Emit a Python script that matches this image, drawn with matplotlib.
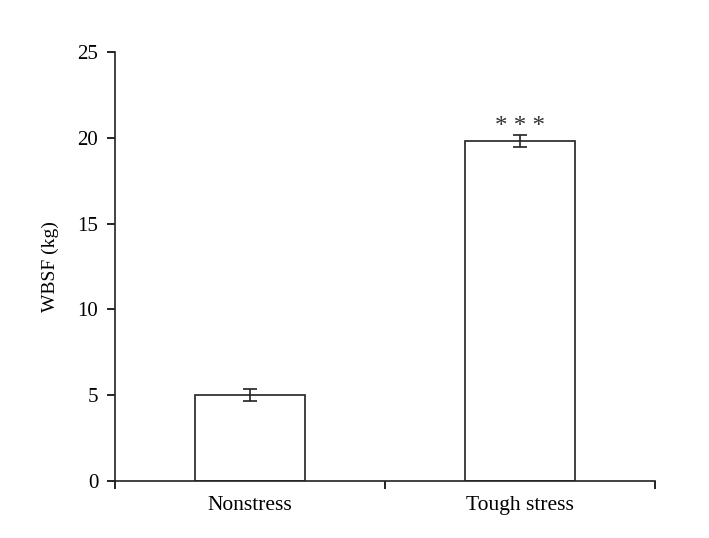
import matplotlib
matplotlib.use("Agg")
import matplotlib.pyplot as plt
from matplotlib.ticker import FixedLocator, NullFormatter

plt.rcParams["font.family"] = ["Liberation Serif", "DejaVu Serif"]

categories = ["Nonstress", "Tough stress"]
wbsf = [5.0, 19.8]
wbsf_err = [0.35, 0.35]
signif = ["", "* * *"]

fig = plt.figure(figsize=(7.09, 5.38), dpi=100)
ax = fig.add_axes([0.1622, 0.106, 0.7616, 0.7973])

pos = [0.5, 1.5]
ax.bar(pos, wbsf, width=0.41, color="white", edgecolor="#333333", linewidth=1.3, zorder=2)
ax.errorbar(pos, wbsf, yerr=wbsf_err, fmt="none", ecolor="#222222",
            elinewidth=1.2, capsize=5, capthick=1.2, zorder=3)
for x, v, e, s in zip(pos, wbsf, wbsf_err, signif):
    if s:
        ax.text(x, v + e - 0.15, s, ha="center", va="bottom", fontsize=18, color="#333333")

ax.set_xlim(0, 2)
ax.set_ylim(0, 25)
ax.set_yticks([0, 5, 10, 15, 20, 25])
ax.xaxis.set_major_locator(FixedLocator([0, 1, 2]))
ax.xaxis.set_major_formatter(NullFormatter())
ax.xaxis.set_minor_locator(FixedLocator(pos))
ax.set_xticklabels(categories, minor=True)
ax.tick_params(axis="x", which="minor", length=0, pad=11, labelsize=15.5)
ax.tick_params(axis="x", which="major", length=6, width=1.2, direction="out")
ax.tick_params(axis="y", length=6, width=1.2, direction="out", labelsize=15, pad=6)
ax.set_ylabel("WBSF (kg)", fontsize=14, labelpad=13)

for side in ["top", "right"]:
    ax.spines[side].set_visible(False)
for side in ["left", "bottom"]:
    ax.spines[side].set_linewidth(1.2)
    ax.spines[side].set_color("#222222")

fig.savefig("out.png", dpi=100)
